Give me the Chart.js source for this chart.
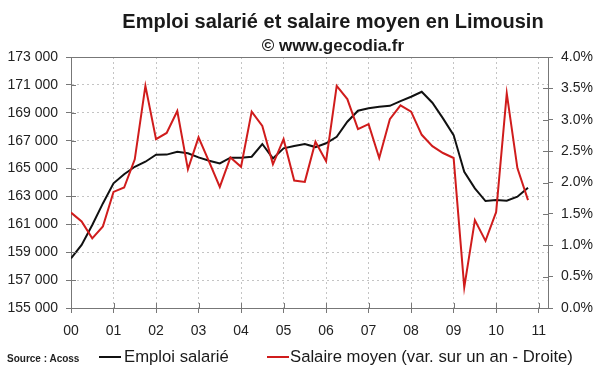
<!DOCTYPE html>
<html>
<head>
<meta charset="utf-8">
<script src="https://cdn.jsdelivr.net/npm/chart.js@4"></script>
<style>
  html, body { margin:0; padding:0; background:#fff; }
  #wrap { position:relative; width:600px; height:372px; overflow:hidden; font-family:'Liberation Sans', Arial, sans-serif; }
  canvas { position:absolute; left:0; top:0; }
  .t { position:absolute; white-space:nowrap; color:#1a1a1a; }
  #title { left:33px; width:600px; top:9px; text-align:center; font-weight:bold; font-size:20px; line-height:24px; }
  #sub { left:33px; width:600px; top:36px; text-align:center; font-weight:bold; font-size:17px; line-height:20px; }
  #src { left:7px; top:353px; font-weight:bold; font-size:10px; line-height:12px; color:#222; }
  .lg { top:347px; font-size:16.7px; line-height:20px; }
  .sw { position:absolute; height:2px; top:356px; }
</style>
</head>
<body>
<div id="wrap">
  <canvas id="c" width="600" height="372"></canvas>
  <div class="t" id="title">Emploi salarié et salaire moyen en Limousin</div>
  <div class="t" id="sub">© www.gecodia.fr</div>
  <div class="t" id="src">Source : Acoss</div>
  <div class="sw" style="left:99px;width:22px;background:#111;"></div>
  <div class="t lg" style="left:124px;">Emploi salarié</div>
  <div class="sw" style="left:267px;width:22px;background:#d01c1c;"></div>
  <div class="t lg" style="left:290px;">Salaire moyen (var. sur un an - Droite)</div>
</div>
<script>
// Year tick labels (x axis, one per year from 2000)
const yearLabels = ['00','01','02','03','04','05','06','07','08','09','10','11'];

// Quarterly series, 2000 Q1 -> 2010 Q4
const emploiSalarie = [
  158560, 159520, 160950, 162500,
  163940, 164590, 165130, 165490,
  165990, 166000, 166200, 166100,
  165800, 165560, 165370, 165780,
  165780, 165850, 166760, 165730,
  166450, 166620, 166760, 166540,
  166810, 167280, 168360, 169150,
  169320, 169430, 169500, 169840,
  170150, 170510, 169720, 168600,
  167400, 164770, 163580, 162670,
  162740, 162690, 162980, 163630
];
const salaireMoyen = [
  1.52, 1.38, 1.11, 1.30,
  1.85, 1.92, 2.37, 3.54,
  2.69, 2.79, 3.14, 2.21,
  2.72, 2.33, 1.93, 2.40,
  2.25, 3.13, 2.90, 2.29,
  2.69, 2.03, 2.01, 2.65,
  2.34, 3.54, 3.33, 2.85,
  2.93, 2.39, 3.01, 3.23,
  3.13, 2.76, 2.58, 2.47,
  2.39, 0.33, 1.40, 1.07,
  1.53, 3.42, 2.23, 1.72
];

const FONT = "'Liberation Sans', Arial, sans-serif";
const toPts = arr => arr.map((v, i) => ({ x: i / 4, y: v }));
const fmtThousands = v => String(Math.round(v)).replace(/\B(?=(\d{3})+(?!\d))/g, ' ');

const crossTicks = {
  id: 'crossTicks',
  afterDraw(chart) {
    const { ctx, chartArea: a, scales } = chart;
    ctx.save();
    ctx.lineWidth = 1;
    ctx.strokeStyle = '#777';
    // solid top frame line
    ctx.beginPath();
    ctx.moveTo(a.left, Math.round(a.top) + 0.5);
    ctx.lineTo(a.right, Math.round(a.top) + 0.5);
    ctx.stroke();
    ctx.beginPath();
    scales.x.ticks.forEach(t => {
      const p = Math.round(scales.x.getPixelForValue(t.value)) + 0.5;
      ctx.moveTo(p, a.bottom); ctx.lineTo(p, a.bottom - 5);
    });
    scales.y.ticks.forEach(t => {
      const p = Math.round(scales.y.getPixelForValue(t.value)) + 0.5;
      ctx.moveTo(a.left, p); ctx.lineTo(a.left + 5, p);
    });
    scales.y1.ticks.forEach(t => {
      const p = Math.round(scales.y1.getPixelForValue(t.value)) + 0.5;
      ctx.moveTo(a.right, p); ctx.lineTo(a.right - 5, p);
    });
    ctx.stroke();
    ctx.restore();
  }
};

new Chart(document.getElementById('c'), {
  type: 'line',
  data: {
    datasets: [
      { label: 'Emploi salarié', data: toPts(emploiSalarie), yAxisID: 'y',
        borderColor: '#111', borderWidth: 2, pointRadius: 0, tension: 0, order: 1 },
      { label: 'Salaire moyen (var. sur un an - Droite)', data: toPts(salaireMoyen), yAxisID: 'y1',
        borderColor: '#d01c1c', borderWidth: 2, pointRadius: 0, tension: 0, order: 0 }
    ]
  },
  options: {
    responsive: false,
    animation: false,
    layout: { padding: { top: 57, left: 0, right: 0, bottom: 0 } },
    plugins: { legend: { display: false }, title: { display: false }, tooltip: { enabled: false } },
    scales: {
      x: {
        type: 'linear', min: 0, max: 11.22,
        afterBuildTicks: s => { s.ticks = yearLabels.map((l, i) => ({ value: i })); },
        afterFit: s => { s.height = 64; },
        ticks: { callback: (v) => yearLabels[Math.round(v)], autoSkip: false, maxRotation: 0,
                 font: { family: FONT, size: 14 }, color: '#222', padding: 10 },
        grid: { color: '#c4c4c4', tickColor: '#777', tickLength: 5 },
        border: { color: '#777', dash: [2, 3] }
      },
      y: {
        position: 'left', min: 155000, max: 173000,
        afterFit: s => { s.width = 71; },
        ticks: { stepSize: 2000, callback: v => fmtThousands(v),
                 font: { family: FONT, size: 14 }, color: '#222', padding: 8 },
        grid: { color: '#c4c4c4', tickColor: '#777', tickLength: 5 },
        border: { color: '#777', dash: [2, 3] }
      },
      y1: {
        position: 'right', min: 0, max: 4,
        afterFit: s => { s.width = 52; },
        ticks: { stepSize: 0.5, callback: v => v.toFixed(1) + '%',
                 font: { family: FONT, size: 14 }, color: '#222', padding: 8 },
        grid: { drawOnChartArea: false, tickColor: '#777', tickLength: 5 },
        border: { color: '#777' }
      }
    }
  },
  plugins: [crossTicks]
});
</script>
</body>
</html>
